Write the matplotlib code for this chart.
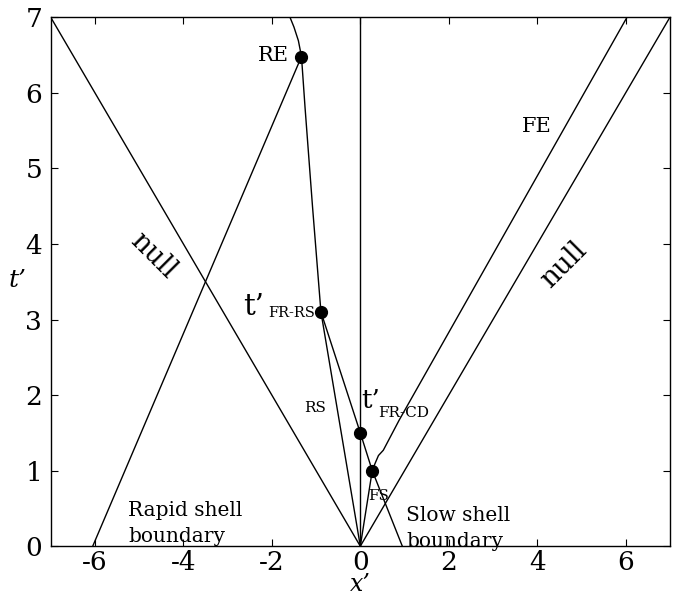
import numpy as np
import matplotlib
matplotlib.use("Agg")
import matplotlib.pyplot as plt

plt.rcParams['font.family'] = ['DejaVu Serif']
plt.rcParams['axes.unicode_minus'] = False

# characteristics in the (x', t') plane
null_left_x = [-7, 0]
null_left_t = [7, 0]
null_right_x = [0, 7]
null_right_t = [0, 7]
rapid_x = [-6.05, -1.33]
rapid_t = [0, 6.48]
axis_x = [0, 0]
axis_t = [0, 7]
rs_x = [0, -0.89]
rs_t = [0, 3.1]
fs_x = [0, 0.27]
fs_t = [0, 1.0]
# slow shell boundary -> FS -> CD -> FR-RS -> RE -> top
cd_x = [0.95, 0.27, 0.0, -0.89, -1.08, -1.25, -1.33, -1.40, -1.50, -1.59]
cd_t = [0.0, 1.0, 1.5, 3.1, 4.49, 5.81, 6.48, 6.69, 6.87, 7.0]
# forward front
fe_x = [0.27, 0.33, 0.41, 0.52, 0.88, 6.03]
fe_t = [1.0, 1.09, 1.20, 1.27, 1.67, 7.0]

dots_x = [-1.33, -0.89, 0.0, 0.27]
dots_t = [6.48, 3.1, 1.5, 1.0]

fig = plt.figure(figsize=(6.76, 5.95), dpi=100)
ax = fig.add_axes([0.075, 0.082, 0.916, 0.889])

lines = [(null_left_x, null_left_t), (null_right_x, null_right_t),
         (rapid_x, rapid_t), (axis_x, axis_t), (rs_x, rs_t), (fs_x, fs_t),
         (cd_x, cd_t), (fe_x, fe_t)]
for xs, ts in lines:
    ax.plot(xs, ts, color='black', lw=1.0)
ax.plot(dots_x, dots_t, 'o', color='black', ms=8.5, zorder=5)

ax.set_xlim(-7, 7)
ax.set_ylim(0, 7)
ax.set_xticks([-6, -4, -2, 0, 2, 4, 6])
ax.set_yticks(range(0, 8))
ax.tick_params(direction='in', length=5, top=True, right=True, labelsize=19)
ax.tick_params(axis='x', pad=3)
ax.tick_params(axis='y', pad=6)
for s in ax.spines.values():
    s.set_linewidth(1.0)

ax.set_xlabel("x’", fontsize=17, style='italic', va='center')
ax.xaxis.set_label_coords(0.5, -0.072)
ax.set_ylabel("t’", fontsize=18, style='italic', rotation=0)
ax.yaxis.set_label_coords(-0.053, 0.48)

ax.text(-1.62, 6.5, "RE", fontsize=15, ha='right', va='center')
ax.text(3.98, 5.56, "FE", fontsize=15, ha='center', va='center')
ax.text(-4.68, 3.85, "null", fontsize=20, ha='center', va='center', rotation=-45)
ax.text(4.6, 3.72, "null", fontsize=20, ha='center', va='center', rotation=45)
ax.text(-2.18, 3.06, "t’", fontsize=21, ha='right', va='baseline')
ax.text(-1.02, 3.03, "FR-RS", fontsize=10.5, ha='right', va='baseline')
ax.text(0.02, 1.83, "t’", fontsize=19, ha='left', va='baseline')
ax.text(0.41, 1.71, "FR-CD", fontsize=11, ha='left', va='baseline')
ax.text(-1.02, 1.83, "RS", fontsize=11, ha='center', va='center')
ax.text(0.41, 0.66, "FS", fontsize=11, ha='center', va='center')
ax.text(-5.25, 0.0, "Rapid shell\nboundary", fontsize=14.5, ha='left', va='bottom',
        linespacing=1.45)
ax.text(1.04, -0.06, "Slow shell\nboundary", fontsize=14.5, ha='left', va='bottom',
        linespacing=1.45)

fig.savefig("out.png", dpi=100)
